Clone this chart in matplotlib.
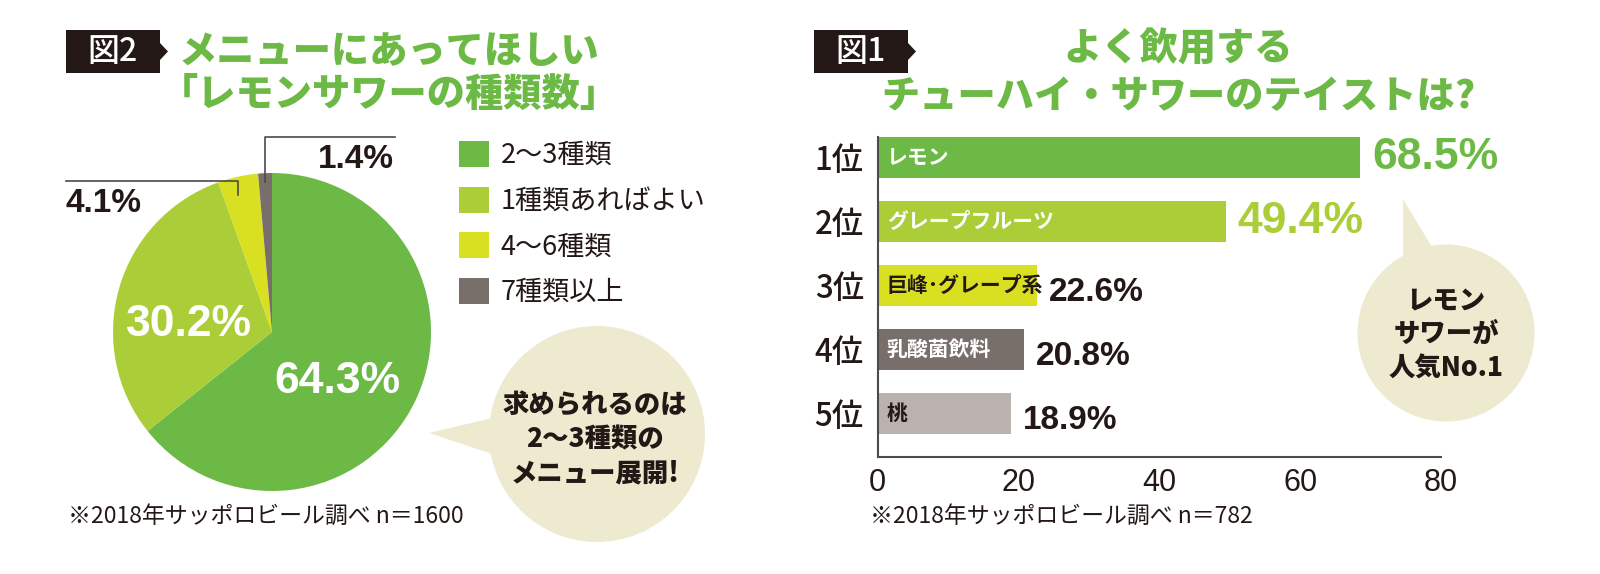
import matplotlib
matplotlib.use("Agg")
from matplotlib import pyplot as plt
from matplotlib.patches import Circle, Polygon

plt.rcParams["font.family"] = ["Noto Sans CJK JP", "DejaVu Sans"]

# 図2: レモンサワーの種類数 (pie)
pie_labels = ["2～3種類", "1種類あればよい", "4～6種類", "7種類以上"]
pie_values = [64.3, 30.2, 4.1, 1.4]
pie_colors = ["#6cba45", "#aacd38", "#d9e022", "#786e6a"]

# 図1: よく飲用するテイスト (bars)
ranks = ["1位", "2位", "3位", "4位", "5位"]
tastes = ["レモン", "グレープフルーツ", "巨峰･グレープ系", "乳酸菌飲料", "桃"]
taste_values = [68.5, 49.4, 22.6, 20.8, 18.9]
bar_colors = ["#6cba45", "#aacd38", "#d9e022", "#786e6a", "#b9b2af"]
inner_colors = ["white", "white", "#231815", "white", "#231815"]
value_colors = ["#6cba45", "#aacd38", "#231815", "#231815", "#231815"]
xticks = [0, 20, 40, 60, 80]

W, H = 1600, 574
GREEN = "#6cba45"
DARK = "#231815"
BUBBLE = "#eeead0"
NUM_FONT = ["Liberation Sans", "DejaVu Sans"]


def box(x0, y0, x1, y1):
    # pixel box (top-left origin) -> figure fraction rect
    return [x0 / W, 1 - y1 / H, (x1 - x0) / W, (y1 - y0) / H]


fig = plt.figure(figsize=(W / 100, H / 100), dpi=100)

# ---- pie ----
cx, cy, r = 272, 332, 159
ax_pie = fig.add_axes(box(cx - r, cy - r, cx + r, cy + r))
wedges, _ = ax_pie.pie(pie_values, colors=pie_colors, startangle=90,
                       counterclock=False, radius=1,
                       wedgeprops=dict(linewidth=0))
ax_pie.set_xlim(-1, 1)
ax_pie.set_ylim(-1, 1)
ax_pie.set_aspect("equal")
ax_pie.text(0.41, -0.31, f"{pie_values[0]}%", color="white", fontsize=32,
            fontweight="bold", family=NUM_FONT, ha="center", va="center")
ax_pie.text(-0.52, 0.05, f"{pie_values[1]}%", color="white", fontsize=32,
            fontweight="bold", family=NUM_FONT, ha="center", va="center")

fig.legend(wedges, pie_labels, loc="upper left",
           bbox_to_anchor=(459 / W, 1 - 141 / H), frameon=False,
           fontsize=19.5, handlelength=1.1, handleheight=1.1,
           handletextpad=0.45, labelspacing=0.64, borderpad=0,
           borderaxespad=0, labelcolor=DARK)

# ---- bars ----
ax = fig.add_axes(box(877.7, 137, 1441, 457))
ypos = list(range(len(ranks)))
ax.barh(ypos, taste_values, height=0.64, color=bar_colors)
ax.set_xlim(0, 80)
ax.set_ylim(len(ranks) - 0.32, -0.32)
ax.set_xticks(xticks)
ax.set_yticks(ypos, ranks)
ax.tick_params(length=0, colors=DARK)
ax.tick_params(axis="x", labelsize=22, pad=8)
ax.tick_params(axis="y", labelsize=22.5, pad=10)
for lab in ax.get_xticklabels():
    lab.set_family(["Liberation Sans", "DejaVu Sans"])
for lab in ax.get_yticklabels():
    lab.set_fontweight("medium")
for s in ["top", "right"]:
    ax.spines[s].set_visible(False)
for s in ["left", "bottom"]:
    ax.spines[s].set_color("#4d4a48")
    ax.spines[s].set_linewidth(1.5)

for i, (name, v) in enumerate(zip(tastes, taste_values)):
    ax.annotate(name, xy=(0, i), xytext=(9, 0), textcoords="offset pixels",
                ha="left", va="center", fontsize=15, fontweight="bold",
                color=inner_colors[i])
    big = i < 2
    ax.annotate(f"{v}%", xy=(v, i), xytext=(12, 0 if big else -7),
                textcoords="offset pixels", ha="left", va="center",
                fontsize=32 if big else 24, fontweight="bold",
                family=NUM_FONT, color=value_colors[i])

# ---- overlay (pixel coordinates) ----
ov = fig.add_axes([0, 0, 1, 1])
ov.set_xlim(0, W)
ov.set_ylim(H, 0)
ov.axis("off")


def tag(x0, text):
    pts = [(x0, 30), (x0 + 94, 30), (x0 + 94, 43), (x0 + 102, 51.5),
           (x0 + 94, 60), (x0 + 94, 73), (x0, 73)]
    ov.add_patch(Polygon(pts, closed=True, color=DARK, lw=0))
    ov.text(x0 + 47, 52, text, color="white", fontsize=23, fontweight="medium",
            ha="center", va="center")


tag(66, "図2")
tag(814, "図1")

ov.text(389, 52, "メニューにあってほしい", color=GREEN, fontsize=27.5,
        fontweight="black", ha="center", va="center")
ov.text(389, 96, "「レモンサワーの種類数」", color=GREEN, fontsize=27.5,
        fontweight="black", ha="center", va="center")
ov.text(1178, 50, "よく飲用する", color=GREEN, fontsize=27.5,
        fontweight="black", ha="center", va="center")
ov.text(1178, 97, "チューハイ・サワーのテイストは?", color=GREEN, fontsize=27.5,
        fontweight="black", ha="center", va="center")

# small-slice leader lines and labels
ov.plot([66, 238, 238], [181, 181, 195], color="#4d4a48", lw=1.2)
ov.plot([265, 265, 395], [182, 137, 137], color="#4d4a48", lw=1.2)
ov.text(103, 204, f"{pie_values[2]}%", color=DARK, fontsize=24,
        fontweight="bold", family=NUM_FONT, ha="center", va="center")
ov.text(356, 159, f"{pie_values[3]}%", color=DARK, fontsize=24,
        fontweight="bold", family=NUM_FONT, ha="center", va="center")

# speech bubbles
ov.add_patch(Circle((597, 434), 108, color=BUBBLE, lw=0))
ov.add_patch(Polygon([(429, 433), (492, 418), (492, 454)], color=BUBBLE, lw=0))
ov.text(595, 439, "求められるのは\n2～3種類の\nメニュー展開!", color=DARK,
        fontsize=19, fontweight="black", ha="center", va="center",
        linespacing=1.25)

ov.add_patch(Circle((1446, 333), 88.5, color=BUBBLE, lw=0))
ov.add_patch(Polygon([(1403, 199), (1403, 256), (1432, 247)], color=BUBBLE, lw=0))
ov.text(1446, 334, "レモン\nサワーが\n人気No.1", color=DARK, fontsize=19,
        fontweight="black", ha="center", va="center", linespacing=1.25)

# footnotes
ov.text(68, 516, "※2018年サッポロビール調べ n＝1600", color=DARK,
        fontsize=16.5, ha="left", va="center")
ov.text(870, 516, "※2018年サッポロビール調べ n＝782", color=DARK,
        fontsize=16.5, ha="left", va="center")

fig.savefig("out.png", dpi=100)
